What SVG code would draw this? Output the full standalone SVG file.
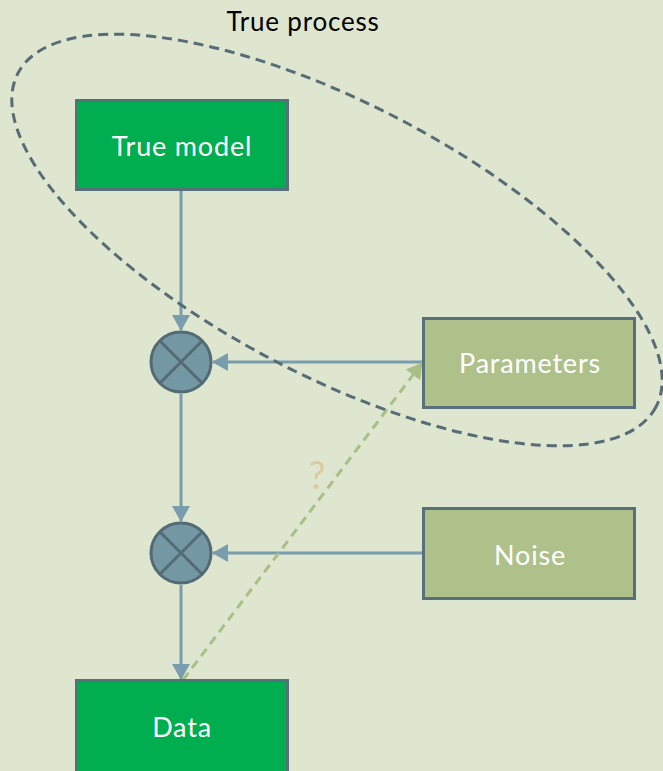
<svg xmlns="http://www.w3.org/2000/svg" width="663" height="771" viewBox="0 0 663 771">
  <style>
    .box { stroke: #58707A; stroke-width: 3; }
    .model { fill: #00AD4F; }
    .input { fill: #AEC18A; }
    .label { font-family: "Lato", "Open Sans", sans-serif; font-size: 27px; letter-spacing: 0.8px; fill: #FFFFFF; text-anchor: middle; }
    .mix circle { fill: #7397A3; stroke: #536B75; stroke-width: 3; }
    .mix line { stroke: #536B75; stroke-width: 3; }
    .flow { stroke: #7A9DAD; stroke-width: 3; fill: none; marker-end: url(#arrow); }
    .infer { stroke: #A9BF86; stroke-width: 3; stroke-dasharray: 9 6; fill: none; marker-end: url(#arrowGreen); }
  </style>
  <defs>
    <marker id="arrow" viewBox="0 0 16 18" refX="15" refY="9" markerWidth="16" markerHeight="18" markerUnits="userSpaceOnUse" orient="auto">
      <path d="M0,0 L16,9 L0,18 Z" fill="#7A9DAD"/>
    </marker>
    <marker id="arrowGreen" viewBox="0 0 16 18" refX="15" refY="9" markerWidth="16" markerHeight="18" markerUnits="userSpaceOnUse" orient="auto">
      <path d="M0,0 L16,9 L0,18 Z" fill="#A9BF86"/>
    </marker>
  </defs>

  <rect width="663" height="771" fill="#DFE6CF"/>

  <g id="connectors">
    <line class="flow" x1="181" y1="191" x2="181" y2="330"/>
    <line class="flow" x1="423" y1="362" x2="213" y2="362"/>
    <line class="flow" x1="181" y1="394" x2="181" y2="521"/>
    <line class="flow" x1="423" y1="553" x2="213" y2="553"/>
    <line class="flow" x1="181" y1="585" x2="181" y2="679"/>
    <line class="infer" x1="183" y1="680" x2="422" y2="363"/>
    <text x="317" y="489" font-family="Lato, 'Open Sans', sans-serif" font-size="38" fill="#D9CBA2" text-anchor="middle">?</text>
  </g>

  <g id="true-model">
    <rect class="box model" x="76.5" y="100.5" width="211" height="89"/>
    <text class="label" x="182" y="156">True model</text>
  </g>

  <g id="parameters">
    <rect class="box input" x="423.5" y="318.5" width="211" height="89"/>
    <text class="label" x="530" y="373">Parameters</text>
  </g>

  <g id="noise">
    <rect class="box input" x="423.5" y="508.5" width="211" height="90"/>
    <text class="label" x="530" y="565">Noise</text>
  </g>

  <g id="data">
    <rect class="box model" x="76.5" y="680.5" width="211" height="100"/>
    <text class="label" x="182" y="737">Data</text>
  </g>

  <g id="mix-parameters" class="mix">
    <circle cx="181" cy="362" r="30"/>
    <line x1="159.8" y1="340.8" x2="202.2" y2="383.2"/>
    <line x1="202.2" y1="340.8" x2="159.8" y2="383.2"/>
  </g>

  <g id="mix-noise" class="mix">
    <circle cx="181" cy="553" r="30"/>
    <line x1="159.8" y1="531.8" x2="202.2" y2="574.2"/>
    <line x1="202.2" y1="531.8" x2="159.8" y2="574.2"/>
  </g>

  <g id="true-process">
    <ellipse cx="337" cy="240" rx="360" ry="136" transform="rotate(27.6 337 240)" fill="none" stroke="#566C76" stroke-width="3" stroke-dasharray="10 6"/>
    <text x="303" y="31" font-family="Lato, 'Open Sans', sans-serif" font-size="26" letter-spacing="0.8" fill="#000000" text-anchor="middle">True process</text>
  </g>
</svg>
